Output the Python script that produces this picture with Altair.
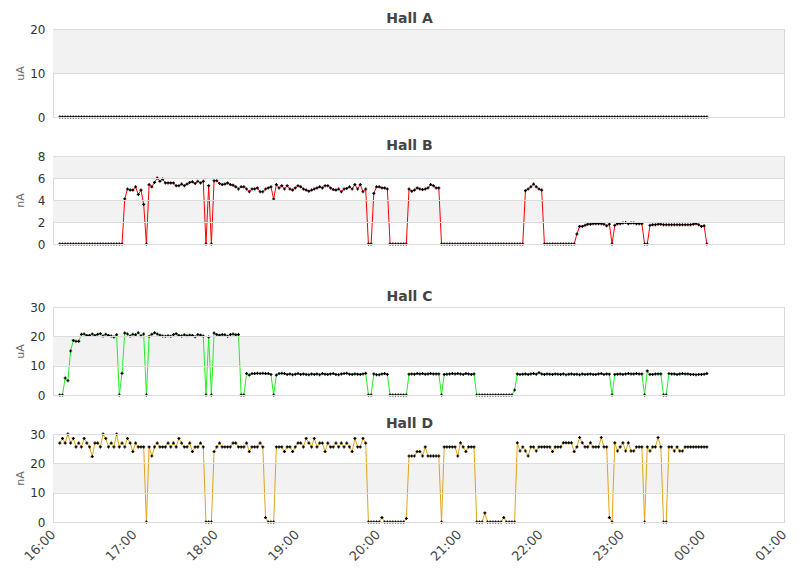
import pandas as pd
import altair as alt

### readings are every 2 minutes, from 16:05 to 00:03
times = pd.date_range("2024-01-01 16:05", periods=240, freq="2min")

### Hall A never has beam
hall_a = [0.0] * 240

### Hall B (nA)
hall_b = ([0.0] * 24
          + [4.1, 5.0, 4.9, 4.9, 5.2, 4.5, 4.9, 3.6]
          + [0.0]
          + [5.4, 5.2, 5.6, 6.0, 5.7, 5.9, 5.55, 5.55, 5.55, 5.55, 5.3, 5.3, 5.45, 5.3, 5.45,
             5.6, 5.65, 5.5, 5.7, 5.55, 5.7]
          + [0.0, 5.3, 0.0]
          + [5.75, 5.75, 5.5, 5.4, 5.45, 5.55, 5.4, 5.35, 5.2, 5.0, 5.2, 5.2, 5.0, 4.75, 5.0,
             5.0, 5.1, 4.75, 4.75, 5.0, 5.1, 5.2]
          + [4.1]
          + [5.4, 5.1, 5.3, 5.0, 5.3, 5.0, 4.9, 5.1, 5.3, 5.2, 5.0, 4.9, 4.8, 4.9, 5.0, 5.1, 5.2,
             5.1, 5.3, 5.3, 5.1, 4.95, 4.9, 5.0, 4.75, 5.0, 5.05, 5.2, 5.0, 5.4, 5.0, 5.4, 4.75, 5.0]
          + [0.0, 0.0]
          + [4.6, 5.2, 5.2, 5.1, 5.1, 5.0]
          + [0.0] * 7
          + [5.0, 4.8, 4.9, 5.1, 5.0, 4.95, 5.0, 5.1, 5.4, 5.3, 5.1, 5.1]
          + [0.0] * 31
          + [4.85, 5.0, 5.2, 5.45, 5.2, 5.0, 4.9]
          + [0.0] * 12
          + [0.9, 1.6, 1.6, 1.7, 1.8, 1.8, 1.85, 1.85, 1.85, 1.85, 1.8, 1.65, 1.8]
          + [0.0]
          + [1.7, 1.85, 1.85, 1.9, 1.95, 1.85, 1.9, 1.9, 1.85, 1.85, 1.85]
          + [0.0, 0.0]
          + [1.7, 1.75, 1.75, 1.8, 1.8, 1.75, 1.75, 1.75, 1.75, 1.75, 1.75, 1.75, 1.75, 1.75,
             1.75, 1.75, 1.8, 1.85, 1.75, 1.6, 1.65]
          + [0.0])

### Hall C (uA)
hall_c = ([0.0, 0.0]
          + [5.8, 4.9, 15.0, 18.6, 18.3, 18.3]
          + [20.7, 20.8, 20.3, 20.3, 20.8, 20.3, 20.7, 20.9, 20.1, 20.7, 20.3, 20.1, 19.8, 20.5]
          + [0.0, 7.4]
          + [21.1, 20.8, 20.1, 20.7, 20.5, 21.2, 20.2, 20.8]
          + [0.0]
          + [20.0, 20.7, 21.2, 20.8, 20.4, 20.1, 20.0, 20.2, 20.0, 20.6, 20.9, 20.3, 20.1, 20.5,
             20.2, 20.4, 20.3, 19.9, 20.6, 20.4, 20.1]
          + [0.0, 19.8, 0.0]
          + [21.1, 20.6, 20.4, 20.6, 20.5, 20.0, 20.6, 20.8, 20.5, 20.6]
          + [0.0, 0.0]
          + [7.3, 6.8, 7.3, 7.3, 7.4, 7.3, 7.4, 7.3, 7.3, 7.0]
          + [0.0]
          + [6.8, 7.3, 7.4, 7.3, 7.0, 7.2, 6.9, 7.1, 7.3, 7.0, 7.2, 7.0, 6.9, 7.2, 7.0, 7.2, 6.9,
             7.3, 7.1, 7.0, 7.2, 7.3, 7.0, 6.9, 7.2, 7.3, 7.4, 7.1, 7.0, 7.2, 7.1, 7.0, 7.2, 7.4]
          + [0.0, 0.0]
          + [7.2, 6.9, 6.9, 7.2, 7.3, 7.0]
          + [0.0] * 7
          + [7.1, 7.2, 7.1, 7.3, 7.2, 7.3, 7.1, 7.2, 7.3, 7.2, 7.2, 7.2]
          + [0.0]
          + [7.0, 7.1, 7.2, 7.3, 7.2, 7.3, 7.2, 7.0, 7.3, 7.2, 7.0, 7.2]
          + [0.0] * 14
          + [1.7]
          + [7.2, 7.0, 7.1, 7.2, 7.0, 7.2, 7.3, 7.1, 7.6, 7.2, 7.0, 7.2, 7.1, 7.0, 7.2, 7.1, 7.0,
             7.2, 6.9, 7.1, 7.2, 7.0, 7.1, 6.9, 7.2, 7.0, 7.1, 7.2, 7.0, 7.0, 7.2, 7.3, 7.0, 7.2, 7.1]
          + [0.0]
          + [7.0, 7.1, 7.2, 7.0, 7.2, 7.3, 7.2, 7.2, 7.3, 7.2, 7.2]
          + [0.0, 8.2]
          + [7.0, 7.0, 7.2, 7.2, 7.2]
          + [0.0, 0.0]
          + [7.3, 7.2, 7.2, 7.0, 7.2, 7.3, 7.2, 7.2, 7.0, 7.0, 6.9, 7.0, 7.0, 7.1, 7.3])

### Hall D (nA)
hall_d = ([26.9, 28.5, 26.9, 30.0, 26.9, 28.5, 25.6, 26.9, 25.6, 28.5, 26.9, 25.6, 22.3, 26.9,
           26.9, 25.6, 30.0, 28.5, 25.6, 26.9, 25.6, 30.0, 25.6, 26.9, 25.6, 28.5, 26.9, 24.0,
           26.9, 25.6, 25.6, 25.6]
          + [0.0]
          + [25.6, 22.5, 25.6, 26.9, 25.6, 25.6, 25.6, 26.9, 25.6, 26.9, 25.6, 28.5, 26.9, 25.6,
             25.6, 26.9, 24.0, 25.6, 25.6, 26.9, 25.6]
          + [0.0, 0.0, 0.0]
          + [24.0, 25.6, 26.9, 25.6, 25.6, 25.6, 25.6, 26.9, 26.9, 25.6, 25.6, 25.6, 26.9, 24.0,
             25.6, 25.6, 25.6, 26.9, 25.6]
          + [1.5, 0.0, 0.0, 0.0]
          + [25.6, 25.6, 25.6, 24.0, 25.6, 25.6, 24.0, 25.6, 26.9, 26.9, 25.6, 28.5, 26.9, 25.6,
             28.5, 25.6, 26.9, 26.9, 24.0, 26.9, 25.6, 25.6, 26.9, 25.6, 26.9, 25.6, 26.9, 25.6,
             24.0, 28.5, 25.6, 25.6, 28.5, 26.9]
          + [0.0] * 5
          + [1.5]
          + [0.0] * 8
          + [1.2]
          + [22.5, 22.5, 22.5, 24.0, 24.0, 22.5, 25.6, 22.5, 22.5, 22.5, 22.5, 22.5]
          + [0.0]
          + [25.6, 25.6, 25.6, 25.6, 25.6, 22.5, 27.0, 25.6, 24.0, 25.6, 25.6, 25.6]
          + [0.0, 0.0, 0.0, 3.1]
          + [0.0] * 6
          + [1.5]
          + [0.0] * 4
          + [27.0, 24.2, 25.6, 24.2, 22.5, 25.6, 25.6, 24.2, 25.6, 25.6, 25.6, 25.6, 25.6, 24.0,
             25.6, 25.6, 25.6, 27.0, 27.0, 27.0, 27.0, 24.0, 25.6, 28.8, 27.0, 25.6, 25.6, 27.0,
             25.6, 25.6, 25.6, 28.8, 25.6, 25.6]
          + [1.5, 0.0]
          + [27.0, 24.2, 25.6, 27.0, 24.2, 27.0, 24.2, 24.2, 25.6, 25.6, 25.6]
          + [0.0]
          + [25.6, 24.2, 25.6, 25.6, 28.8, 25.6]
          + [0.0, 0.0]
          + [25.6, 25.6, 24.2, 25.6, 24.2, 24.2, 25.6, 25.6, 25.6, 25.6, 25.6, 25.6, 25.6, 25.6, 25.6])

FONT = "DejaVu Sans"
PLOT_W = 731
start = alt.DateTime(year=2024, month=1, date=1, hours=16)
end = alt.DateTime(year=2024, month=1, date=2, hours=1)


### one panel: shaded bands, coloured line, little black crosses
def hall_chart(name, values, color, y_max, y_ticks, band_lo, band_hi, unit, x_axis=None):
    data = pd.DataFrame({"time": times, "value": values})
    bands = pd.DataFrame({"lo": band_lo, "hi": band_hi})

    y_scale = alt.Scale(domain=[0, y_max], nice=False)
    y_axis = alt.Axis(values=y_ticks, title=unit, grid=True, gridColor="#dcdcdc", domain=False,
                      ticks=False, labelPadding=8, labelFontSize=12, labelColor="#333333",
                      titleFontSize=11, titleFontWeight="normal", titleColor="#666666",
                      minExtent=24, titlePadding=4, zindex=1)

    band_layer = alt.Chart(bands).mark_rect(color="#f2f2f2").encode(
        x=alt.value(0),
        x2=alt.value(PLOT_W),
        y=alt.Y("lo:Q", scale=y_scale, axis=y_axis),
        y2="hi:Q"
    )
    line = alt.Chart(data).mark_line(color=color, strokeWidth=1).encode(
        x=alt.X("time:T", scale=alt.Scale(domain=[start, end]), axis=x_axis),
        y=alt.Y("value:Q", scale=y_scale, axis=y_axis)
    )
    dots = line.mark_point(shape="cross", size=9, color="black", filled=True, opacity=1)

    return alt.layer(band_layer, line, dots).properties(
        width=PLOT_W, height=88,
        title=alt.TitleParams(name, offset=-3, dx=-9)
    )


### Hall B and C get empty x axes so that there is more room underneath
gap_b = alt.Axis(labels=False, ticks=False, domain=False, grid=False, title=" ",
                 titleFontSize=10, titlePadding=20)
gap_c = alt.Axis(labels=False, ticks=False, domain=False, grid=False, title=" ",
                 titleFontSize=2, titlePadding=3)
time_axis = alt.Axis(format="%H:%M", tickCount=9,
                     labelAngle=-45, labelAlign="right", labelBaseline="middle",
                     labelPadding=10, labelFontSize=13, labelColor="#444444",
                     grid=False, ticks=False, domain=False, title=None)

chart_a = hall_chart("Hall A", hall_a, "#000000", 20, [0, 10, 20], [10], [20], "uA")
chart_b = hall_chart("Hall B", hall_b, "#ff0000", 8, [0, 2, 4, 6, 8], [2, 6], [4, 8], "nA",
                     x_axis=gap_b)
chart_c = hall_chart("Hall C", hall_c, "#22ee22", 30, [0, 10, 20, 30], [10], [20], "uA",
                     x_axis=gap_c)
chart_d = hall_chart("Hall D", hall_d, "#e0a417", 30, [0, 10, 20, 30], [10], [20], "nA",
                     x_axis=time_axis)

chart = (alt.vconcat(chart_a, chart_b, chart_c, chart_d, spacing=14)
    .properties(padding={"left": 5, "top": 3, "right": 5, "bottom": 5})
    .configure_view(stroke="#d9d9d9", strokeWidth=1)
    .configure_axis(labelFont=FONT, titleFont=FONT)
    .configure_title(font=FONT, fontSize=14, fontWeight="bold", color="#444444",
                     anchor="middle"))

chart.save("out.html", embed_options={"renderer": "svg", "actions": False})
